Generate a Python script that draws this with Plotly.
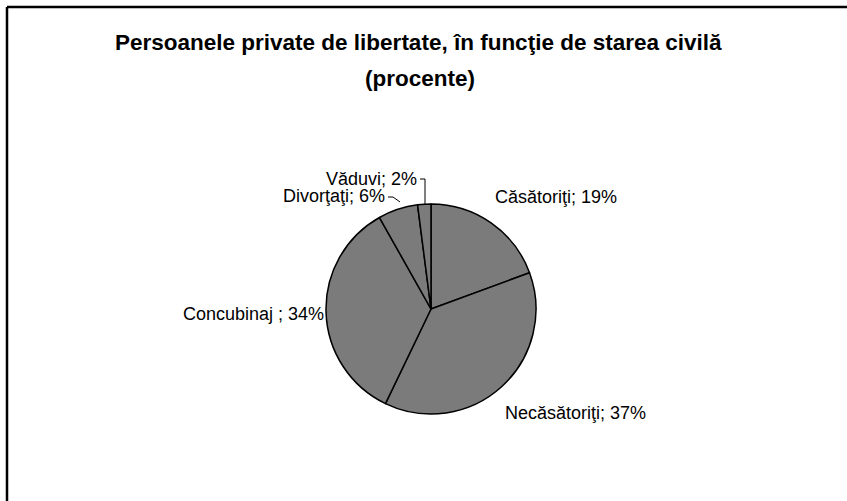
import plotly.graph_objects as go

# ---- data ----
categories = ["Căsătoriţi", "Necăsătoriţi", "Concubinaj ", "Divorţaţi", "Văduvi"]
values = [19, 37, 34, 6, 2]
title_line1 = "Persoanele private de libertate, în funcţie de starea civilă"
title_line2 = "(procente)"

W, H = 847, 501

def px(x):
    return x / W

def py(y):
    return (H - y) / H

# pie geometry (pixels)
cx, cy, r = 431, 309, 105

fig = go.Figure()
fig.add_trace(go.Pie(
    labels=categories,
    values=values,
    sort=False,
    direction="clockwise",
    rotation=0,
    textinfo="none",
    hoverinfo="label+value",
    marker=dict(colors=["#7b7b7b"] * len(values), line=dict(color="#000000", width=1.5)),
    domain=dict(x=[px(cx - r), px(cx + r)], y=[py(cy + r), py(cy - r)]),
    showlegend=False,
))

label_font = dict(family="Liberation Sans, Arial, sans-serif", size=18, color="#000000")
# label placement (pixels): x, y, xanchor
label_pos = [
    (493, 197, "left"),
    (503, 413, "left"),
    (326, 314, "right"),
    (387, 196, "right"),
    (419, 179, "right"),
]
annotations = []
for (lab, val), (x, y, xa) in zip(zip(categories, values), label_pos):
    annotations.append(dict(
        text=f"{lab}; {val}%", x=px(x), y=py(y), xref="paper", yref="paper",
        xanchor=xa, yanchor="middle", showarrow=False, font=label_font,
    ))

title_font = dict(family="Liberation Sans Narrow, Arial Narrow, Liberation Sans, Arial, sans-serif",
                  size=22.5, color="#000000")
annotations.append(dict(text=f"<b>{title_line1}</b>", x=px(418), y=py(42), xref="paper", yref="paper",
                        xanchor="center", yanchor="middle", showarrow=False, font=title_font))
annotations.append(dict(text=f"<b>{title_line2}</b>", x=px(420), y=py(78), xref="paper", yref="paper",
                        xanchor="center", yanchor="middle", showarrow=False, font=title_font))

shapes = [
    # chart frame (left and top edges)
    dict(type="line", xref="paper", yref="paper", x0=px(7), y0=py(7), x1=px(7), y1=0,
         line=dict(color="#000000", width=2.5)),
    dict(type="line", xref="paper", yref="paper", x0=px(7), y0=py(7), x1=1, y1=py(7),
         line=dict(color="#000000", width=2.5)),
    # leader lines
    dict(type="path", xref="paper", yref="paper",
         path=f"M {px(388)} {py(197)} L {px(393)} {py(197)} L {px(400)} {py(202)}",
         line=dict(color="#000000", width=1)),
    dict(type="path", xref="paper", yref="paper",
         path=f"M {px(420)} {py(179)} L {px(425)} {py(179)} L {px(425)} {py(205)}",
         line=dict(color="#000000", width=1)),
]

fig.update_layout(
    width=W, height=H,
    margin=dict(l=0, r=0, t=0, b=0),
    paper_bgcolor="#ffffff",
    plot_bgcolor="#ffffff",
    annotations=annotations,
    shapes=shapes,
)

fig.write_html(
    "out.html",
    config={"displayModeBar": False},
    post_script="document.body.style.margin='0';document.body.style.overflow='hidden';",
)
